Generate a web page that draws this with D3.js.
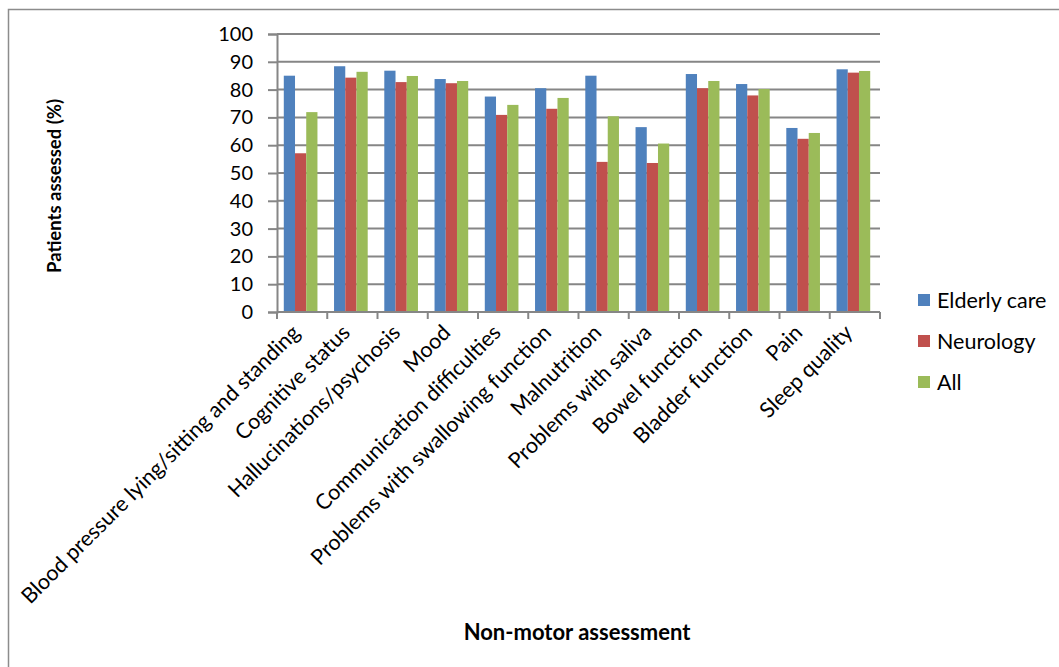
<!DOCTYPE html>
<html>
<head>
<meta charset="utf-8">
<script src="https://cdn.jsdelivr.net/npm/d3@7"></script>
<style>
    body { margin: 0; background: #fff; }
    text { font-family: Lato, "Open Sans", sans-serif; fill: #000; }
</style>
</head>
<body>
<div id="chart"></div>
<script>
// categories and series
const categories = [
    "Blood pressure lying/sitting and standing",
    "Cognitive status",
    "Hallucinations/psychosis",
    "Mood",
    "Communication difficulties",
    "Problems with swallowing function",
    "Malnutrition",
    "Problems with saliva",
    "Bowel function",
    "Bladder function",
    "Pain",
    "Sleep quality"
];
const seriesNames = ["Elderly care", "Neurology", "All"];
const elderlyCare = [85.0, 88.4, 86.8, 83.8, 77.5, 80.5, 85.0, 66.5, 85.6, 82.0, 66.2, 87.3];
const neurology = [57.1, 84.3, 82.7, 82.3, 70.9, 73.1, 54.0, 53.6, 80.5, 77.9, 62.3, 86.1];
const allPatients = [71.9, 86.4, 84.9, 83.1, 74.5, 77.0, 70.4, 60.6, 83.1, 80.2, 64.4, 86.7];
const yTicks = [0, 10, 20, 30, 40, 50, 60, 70, 80, 90, 100];
const colors = ["#4F81BD", "#C0504D", "#9BBB59"];

const W = 1059, H = 667;
const margin = {top: 34, right: 179, bottom: 355, left: 277};
const width = W - margin.left - margin.right;
const height = H - margin.top - margin.bottom;

const svg = d3.select("#chart").append("svg")
    .attr("width", W)
    .attr("height", H);

// outer frame (runs off the right and bottom edges)
svg.append("rect")
    .attr("x", 8.5).attr("y", 9.5)
    .attr("width", W + 20).attr("height", H + 20)
    .attr("fill", "none")
    .attr("stroke", "#8c8c8c")
    .attr("stroke-width", 1.5);

const g = svg.append("g")
    .attr("transform", `translate(${margin.left}, ${margin.top})`);

// scales
const x0 = d3.scaleBand().domain(categories).range([0, width]).padding(0);
const gap = x0.bandwidth() * 0.165;
const x1 = d3.scaleBand().domain(seriesNames).range([gap - 1.5, x0.bandwidth() - gap - 1.5]);
const y = d3.scaleLinear().domain([0, 100]).range([height, 0]);

// gridlines
g.selectAll(".grid")
    .data(yTicks)
    .join("line")
    .attr("class", "grid")
    .attr("x1", 0).attr("x2", width)
    .attr("y1", d => y(d)).attr("y2", d => y(d))
    .attr("stroke", "#868686")
    .attr("stroke-width", 2);

// bars
const rows = categories.map((c, i) => ({
    cat: c,
    vals: [elderlyCare[i], neurology[i], allPatients[i]]
}));

g.selectAll(".group")
    .data(rows)
    .join("g")
    .attr("class", "group")
    .attr("transform", d => `translate(${x0(d.cat)}, 0)`)
    .selectAll("rect")
    .data(d => d.vals.map((v, j) => ({series: seriesNames[j], value: v, color: colors[j]})))
    .join("rect")
    .attr("x", d => x1(d.series))
    .attr("width", x1.bandwidth())
    .attr("y", d => y(d.value))
    .attr("height", d => height - y(d.value))
    .attr("fill", d => d.color);

// y axis
const yAxis = d3.axisLeft(y).tickValues(yTicks).tickSize(9).tickPadding(15);
const yAxisGroup = g.append("g").attr("class", "y-axis").call(yAxis);
yAxisGroup.select(".domain").attr("stroke", "#868686").attr("stroke-width", 2);
yAxisGroup.selectAll(".tick line").attr("stroke", "#868686").attr("stroke-width", 2);
yAxisGroup.selectAll(".tick text")
    .attr("font-size", 20)
    .attr("font-family", "Lato, sans-serif")
    .attr("fill", "#000");

// x axis baseline and boundary ticks
g.append("line")
    .attr("x1", 0).attr("x2", width)
    .attr("y1", height).attr("y2", height)
    .attr("stroke", "#868686").attr("stroke-width", 2);

const bounds = categories.map(c => x0(c)).concat([width]);
g.selectAll(".xtick")
    .data(bounds)
    .join("line")
    .attr("class", "xtick")
    .attr("x1", d => d).attr("x2", d => d)
    .attr("y1", height).attr("y2", height + 7)
    .attr("stroke", "#868686").attr("stroke-width", 2);

// category labels
g.selectAll(".xlabel")
    .data(categories)
    .join("text")
    .attr("class", "xlabel")
    .attr("text-anchor", "end")
    .attr("font-size", 21.5)
    .attr("transform", d => `translate(${x0(d) + x0.bandwidth() / 2 - 1}, ${height + 22}) rotate(-45)`)
    .text(d => d);

// axis titles
svg.append("text")
    .attr("x", 577).attr("y", 640)
    .attr("text-anchor", "middle")
    .attr("font-size", 22)
    .attr("font-weight", "bold")
    .text("Non-motor assessment");

svg.append("text")
    .attr("transform", "translate(61, 186) rotate(-90)")
    .attr("text-anchor", "middle")
    .attr("font-size", 18.5)
    .attr("font-weight", "bold")
    .text("Patients assessed (%)");

// legend
const legend = svg.append("g")
    .attr("transform", "translate(918, 300)");

legend.selectAll(".legend-item")
    .data(seriesNames)
    .join("g")
    .attr("class", "legend-item")
    .attr("transform", (d, i) => `translate(0, ${i * 41})`)
    .each(function(d, i) {
        d3.select(this).append("rect")
            .attr("x", 0).attr("y", -6)
            .attr("width", 12).attr("height", 12)
            .attr("fill", colors[i]);
        d3.select(this).append("text")
            .attr("x", 19).attr("y", 7.5)
            .attr("font-size", 21.5)
            .text(d);
    });
</script>
</body>
</html>
